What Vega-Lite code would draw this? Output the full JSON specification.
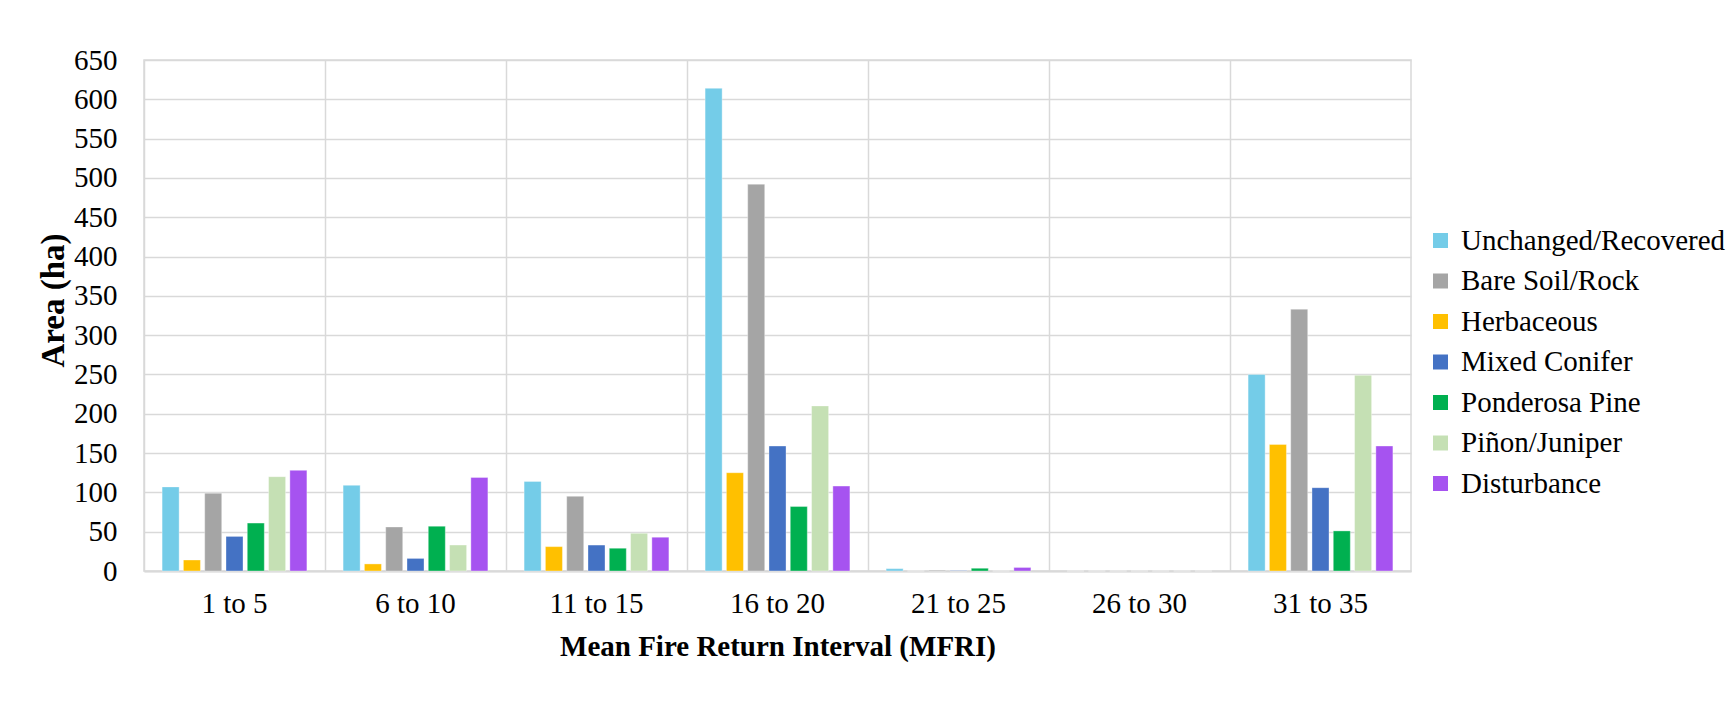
{
  "$schema": "https://vega.github.io/schema/vega-lite/v6.json",
  "width": 1267,
  "height": 511,
  "autosize": "none",
  "padding": {"left": 144, "top": 60, "right": 321, "bottom": 130},
  "background": "white",
  "data": {
    "values": [
      {"interval": "1 to 5", "cover": "Unchanged/Recovered", "area": 107},
      {"interval": "1 to 5", "cover": "Herbaceous", "area": 14},
      {"interval": "1 to 5", "cover": "Bare Soil/Rock", "area": 99},
      {"interval": "1 to 5", "cover": "Mixed Conifer", "area": 44},
      {"interval": "1 to 5", "cover": "Ponderosa Pine", "area": 61},
      {"interval": "1 to 5", "cover": "Piñon/Juniper", "area": 120},
      {"interval": "1 to 5", "cover": "Disturbance", "area": 128},
      {"interval": "6 to 10", "cover": "Unchanged/Recovered", "area": 109},
      {"interval": "6 to 10", "cover": "Herbaceous", "area": 9},
      {"interval": "6 to 10", "cover": "Bare Soil/Rock", "area": 56},
      {"interval": "6 to 10", "cover": "Mixed Conifer", "area": 16},
      {"interval": "6 to 10", "cover": "Ponderosa Pine", "area": 57},
      {"interval": "6 to 10", "cover": "Piñon/Juniper", "area": 33},
      {"interval": "6 to 10", "cover": "Disturbance", "area": 119},
      {"interval": "11 to 15", "cover": "Unchanged/Recovered", "area": 114},
      {"interval": "11 to 15", "cover": "Herbaceous", "area": 31},
      {"interval": "11 to 15", "cover": "Bare Soil/Rock", "area": 95},
      {"interval": "11 to 15", "cover": "Mixed Conifer", "area": 33},
      {"interval": "11 to 15", "cover": "Ponderosa Pine", "area": 29},
      {"interval": "11 to 15", "cover": "Piñon/Juniper", "area": 48},
      {"interval": "11 to 15", "cover": "Disturbance", "area": 43},
      {"interval": "16 to 20", "cover": "Unchanged/Recovered", "area": 614},
      {"interval": "16 to 20", "cover": "Herbaceous", "area": 125},
      {"interval": "16 to 20", "cover": "Bare Soil/Rock", "area": 492},
      {"interval": "16 to 20", "cover": "Mixed Conifer", "area": 159},
      {"interval": "16 to 20", "cover": "Ponderosa Pine", "area": 82},
      {"interval": "16 to 20", "cover": "Piñon/Juniper", "area": 210},
      {"interval": "16 to 20", "cover": "Disturbance", "area": 108},
      {"interval": "21 to 25", "cover": "Unchanged/Recovered", "area": 3},
      {"interval": "21 to 25", "cover": "Herbaceous", "area": 0},
      {"interval": "21 to 25", "cover": "Bare Soil/Rock", "area": 1},
      {"interval": "21 to 25", "cover": "Mixed Conifer", "area": 0.5},
      {"interval": "21 to 25", "cover": "Ponderosa Pine", "area": 3.5},
      {"interval": "21 to 25", "cover": "Piñon/Juniper", "area": 0},
      {"interval": "21 to 25", "cover": "Disturbance", "area": 4.5},
      {"interval": "26 to 30", "cover": "Unchanged/Recovered", "area": 0},
      {"interval": "26 to 30", "cover": "Herbaceous", "area": 0},
      {"interval": "26 to 30", "cover": "Bare Soil/Rock", "area": 0},
      {"interval": "26 to 30", "cover": "Mixed Conifer", "area": 0},
      {"interval": "26 to 30", "cover": "Ponderosa Pine", "area": 0},
      {"interval": "26 to 30", "cover": "Piñon/Juniper", "area": 0},
      {"interval": "26 to 30", "cover": "Disturbance", "area": 0},
      {"interval": "31 to 35", "cover": "Unchanged/Recovered", "area": 250},
      {"interval": "31 to 35", "cover": "Herbaceous", "area": 161},
      {"interval": "31 to 35", "cover": "Bare Soil/Rock", "area": 333},
      {"interval": "31 to 35", "cover": "Mixed Conifer", "area": 106},
      {"interval": "31 to 35", "cover": "Ponderosa Pine", "area": 51},
      {"interval": "31 to 35", "cover": "Piñon/Juniper", "area": 249},
      {"interval": "31 to 35", "cover": "Disturbance", "area": 159}
    ]
  },
  "mark": {"type": "bar", "stroke": "white", "strokeOpacity": 0.35, "strokeWidth": 1},
  "encoding": {
    "x": {
      "field": "interval",
      "type": "nominal",
      "sort": ["1 to 5", "6 to 10", "11 to 15", "16 to 20", "21 to 25", "26 to 30", "31 to 35"],
      "scale": {"paddingInner": 0, "paddingOuter": 0},
      "axis": {
        "title": "Mean Fire Return Interval (MFRI)",
        "labelAngle": 0,
        "labelFont": "Liberation Serif",
        "labelFontSize": 29,
        "labelColor": "black",
        "labelPadding": 18,
        "ticks": false,
        "domainColor": "#d9d9d9",
        "domainWidth": 2,
        "grid": true,
        "bandPosition": 0,
        "gridColor": "#d9d9d9",
        "gridWidth": 1.5,
        "titleFont": "Liberation Serif",
        "titleFontSize": 29,
        "titleFontWeight": "bold",
        "titleColor": "black",
        "titleY": 84,
        "titleBaseline": "alphabetic"
      }
    },
    "xOffset": {
      "field": "cover",
      "type": "nominal",
      "sort": ["Unchanged/Recovered", "Herbaceous", "Bare Soil/Rock", "Mixed Conifer", "Ponderosa Pine", "Piñon/Juniper", "Disturbance"],
      "scale": {"paddingInner": 0.2, "paddingOuter": 0.85}
    },
    "y": {
      "field": "area",
      "type": "quantitative",
      "scale": {"domain": [0, 650], "nice": false},
      "axis": {
        "title": "Area (ha)",
        "values": [0, 50, 100, 150, 200, 250, 300, 350, 400, 450, 500, 550, 600, 650],
        "labelFont": "Liberation Serif",
        "labelFontSize": 29,
        "labelColor": "black",
        "labelPadding": 27,
        "ticks": false,
        "domain": false,
        "gridColor": "#d9d9d9",
        "gridWidth": 1.5,
        "titleFont": "Liberation Serif",
        "titleFontSize": 33,
        "titleFontWeight": "bold",
        "titleColor": "black",
        "titleX": -91,
        "titleY": 240,
        "titleAlign": "center",
        "titleBaseline": "middle",
        "titleAngle": -90
      }
    },
    "color": {
      "field": "cover",
      "type": "nominal",
      "scale": {
        "domain": ["Unchanged/Recovered", "Bare Soil/Rock", "Herbaceous", "Mixed Conifer", "Ponderosa Pine", "Piñon/Juniper", "Disturbance"],
        "range": ["#74CCE8", "#A5A5A5", "#FFC000", "#4472C4", "#00B050", "#C5E0B4", "#A653F0"]
      },
      "legend": {
        "title": null,
        "orient": "none",
        "legendX": 1282,
        "legendY": 166,
        "symbolType": "square",
        "symbolSize": 225,
        "symbolStrokeWidth": 0,
        "labelFont": "Liberation Serif",
        "labelFontSize": 29,
        "labelColor": "black",
        "labelOffset": 6,
        "rowPadding": 10.5,
        "labelLimit": 400
      }
    }
  },
  "config": {
    "font": "Liberation Serif",
    "view": {"stroke": "#d9d9d9", "strokeWidth": 1.5}
  }
}
